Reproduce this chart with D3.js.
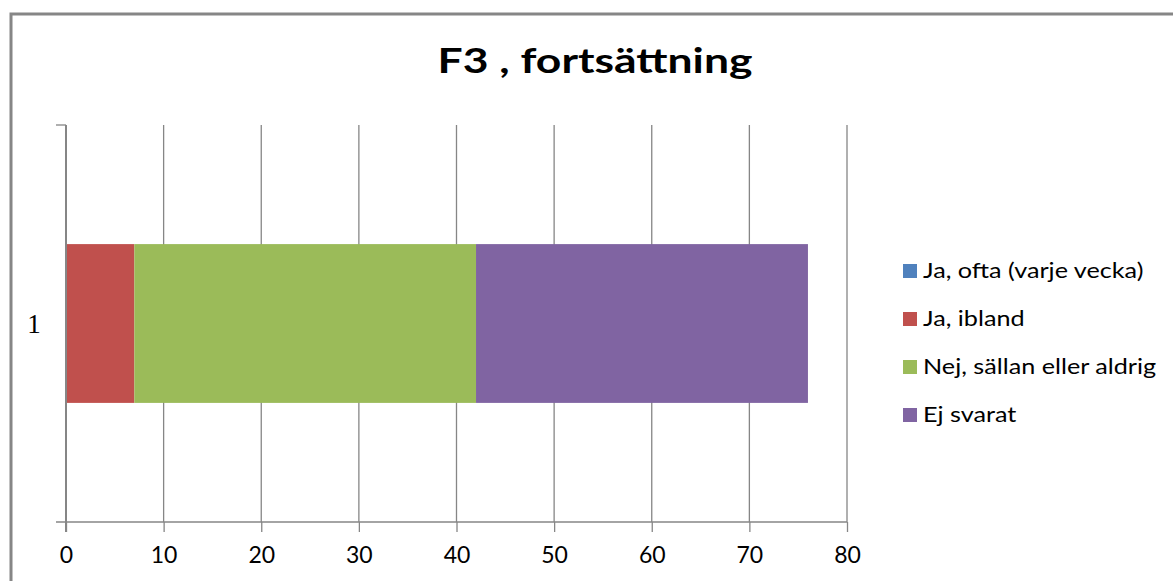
<!DOCTYPE html>
<html><head><meta charset="utf-8">
<script src="https://cdn.jsdelivr.net/npm/d3@7"></script>
<style>html,body{margin:0;padding:0;background:#fff;}svg{display:block;}</style>
</head><body>
<svg id="chart" width="1173" height="581"></svg>
<script>
const title = "F3 , fortsättning";
const categories = ["1"];
const seriesNames = ["Ja, ofta (varje vecka)", "Ja, ibland", "Nej, sällan eller aldrig", "Ej svarat"];
const seriesValues = [[0], [7], [35], [34]];
const seriesColors = ["#4f81bd", "#c0504d", "#9bbb59", "#8064a2"];
const xTicks = [0, 10, 20, 30, 40, 50, 60, 70, 80];

(function () {
const svg = d3.select("#chart");
const gray = "#868686";

// outer frame
svg.append("rect").attr("x", 11).attr("y", 14).attr("width", 1180).attr("height", 600)
  .attr("fill", "#fff").attr("stroke", gray).attr("stroke-width", 3);

const pLeft = 66, pRight = 847, pTop = 125, pBottom = 522;
const x = d3.scaleLinear().domain([0, 80]).range([pLeft, pRight]);
const y = d3.scaleBand().domain(categories).range([pTop, pBottom]).paddingInner(0.6).paddingOuter(0.3);

// grid
svg.append("g").selectAll("line").data(xTicks.slice(1)).join("line")
  .attr("x1", d => x(d)).attr("x2", d => x(d)).attr("y1", pTop).attr("y2", pBottom)
  .attr("stroke", gray).attr("stroke-width", 1.3);

// stacked bars
const stackData = categories.map((c, i) => {
  const o = {cat: c};
  seriesNames.forEach((s, j) => o[s] = seriesValues[j][i]);
  return o;
});
const stacked = d3.stack().keys(seriesNames)(stackData);
svg.append("g").selectAll("g").data(stacked).join("g")
  .attr("fill", (d, i) => seriesColors[i])
  .selectAll("rect").data(d => d).join("rect")
  .attr("x", d => x(d[0])).attr("width", d => x(d[1]) - x(d[0]))
  .attr("y", d => y(d.data.cat)).attr("height", y.bandwidth());

// bottom axis
const xAxis = svg.append("g").attr("transform", `translate(0,${pBottom})`)
  .call(d3.axisBottom(x).tickValues(xTicks).tickSize(10).tickPadding(15).tickSizeOuter(0));
xAxis.select(".domain").remove();
xAxis.selectAll(".tick line").attr("stroke", gray).attr("stroke-width", 1.3);
xAxis.selectAll("text").attr("font-family", "Lato, sans-serif").attr("font-size", 23).attr("fill", "#000");
svg.append("line").attr("x1", pLeft - 10).attr("x2", pRight).attr("y1", pBottom).attr("y2", pBottom)
  .attr("stroke", gray).attr("stroke-width", 1.3);

// left axis
svg.append("line").attr("x1", pLeft).attr("x2", pLeft).attr("y1", pTop).attr("y2", pBottom + 10)
  .attr("stroke", gray).attr("stroke-width", 2);
svg.append("line").attr("x1", pLeft - 10).attr("x2", pLeft).attr("y1", pTop).attr("y2", pTop)
  .attr("stroke", gray).attr("stroke-width", 1.3);
svg.append("g").selectAll("text").data(categories).join("text")
  .attr("x", 34).attr("y", d => y(d) + y.bandwidth() / 2).attr("dy", "0.35em")
  .attr("text-anchor", "middle").attr("font-family", "Liberation Serif, serif").attr("font-size", 27)
  .attr("fill", "#000").text(d => d);

// title (reference glyphs are horizontally wider)
svg.append("text").attr("transform", "translate(595,73) scale(1.27,1)").attr("text-anchor", "middle")
  .attr("font-family", "Lato, sans-serif").attr("font-weight", "bold").attr("font-size", 35)
  .attr("fill", "#000").text(title);

// legend
const lg = svg.append("g").selectAll("g").data(seriesNames).join("g")
  .attr("transform", (d, i) => `translate(903,${271 + i * 48})`);
lg.append("rect").attr("x", 0).attr("y", -7).attr("width", 14).attr("height", 14)
  .attr("fill", (d, i) => seriesColors[i]);
lg.append("text").attr("transform", "translate(20,0) scale(1.2,1)").attr("dy", "0.35em")
  .attr("font-family", "Lato, sans-serif").attr("font-size", 21).attr("fill", "#000").text(d => d);
})();
</script>
</body></html>
